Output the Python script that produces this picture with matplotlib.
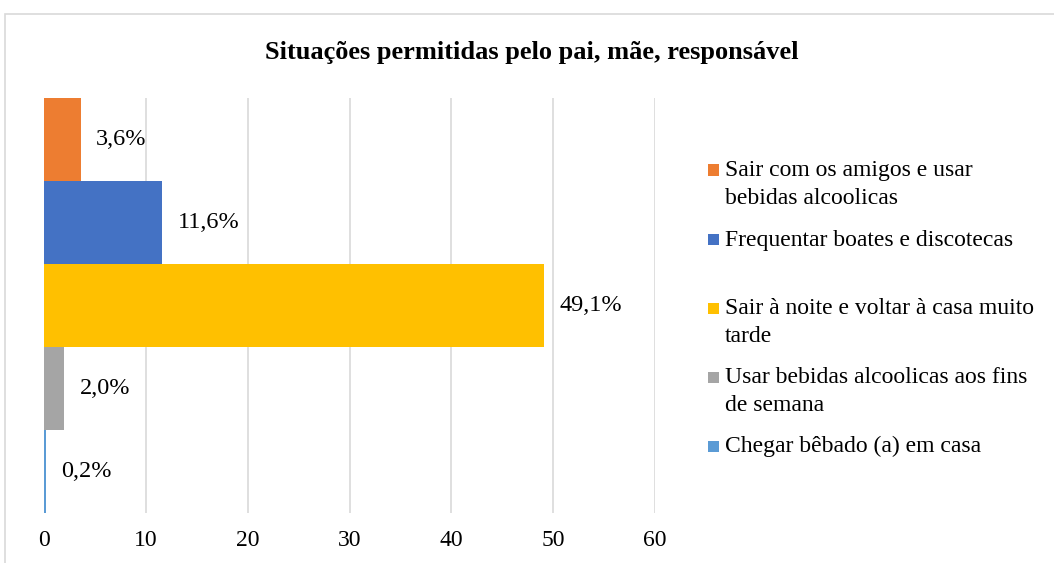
"""
Situações permitidas pelo pai, mãe, responsável - horizontal bar chart
"""

import matplotlib.pyplot as plt
from matplotlib.patches import Rectangle

plt.rcParams["font.family"] = ["Liberation Serif", "DejaVu Serif"]

TITLE = "Situações permitidas pelo pai, mãe, responsável"

categories = [
    "Sair com os amigos e usar\nbebidas alcoolicas",
    "Frequentar boates e discotecas",
    "Sair à noite e voltar à casa muito\ntarde",
    "Usar bebidas alcoolicas aos fins\nde semana",
    "Chegar bêbado (a) em casa",
]
values = [3.6, 11.6, 49.1, 2.0, 0.2]
value_labels = ["3,6%", "11,6%", "49,1%", "2,0%", "0,2%"]
colors = ["#ED7D31", "#4472C4", "#FFC000", "#A5A5A5", "#5B9BD5"]
x_ticks = [0, 10, 20, 30, 40, 50, 60]

# legend rows: first-line centre in pixels from top (Excel spaces them unevenly)
legend_y = [170, 240, 308, 377, 446]
LINE_H = 28

W, H = 1054, 563
fig = plt.figure(figsize=(W / 100, H / 100), dpi=100)

# outer chart frame
fig.add_artist(Rectangle(
    (5 / W, -0.1), 1.2, 1 - 14 / H + 0.1,
    transform=fig.transFigure, facecolor="none",
    edgecolor="#D9D9D9", linewidth=1.2,
))

ax = fig.add_axes([44 / W, 1 - 513 / H, (655 - 44) / W, (513 - 98) / H])

n = len(values)
for i, (v, lab, c) in enumerate(zip(values, value_labels, colors)):
    y = n - 1 - i
    ax.barh(y, v, height=1.0, color=c, zorder=3)
    ax.annotate(
        lab, (v, y), xytext=(11, 0), textcoords="offset points",
        va="center", ha="left", fontsize=17.5,
    )

ax.set_xlim(0, 60)
ax.set_ylim(-0.5, n - 0.5)
ax.set_xticks(x_ticks)
ax.set_yticks([])
ax.grid(axis="x", color="#D9D9D9", linewidth=1.2, zorder=0)
ax.tick_params(axis="x", length=0, labelsize=17, pad=12)
for s in ax.spines.values():
    s.set_visible(False)

fig.text(532 / W, 1 - 52 / H, TITLE, ha="center", va="center",
         fontsize=19, fontweight="bold")

# legend drawn by hand to keep Excel's uneven spacing
for cat, c, ly in zip(categories, colors, legend_y):
    fig.add_artist(Rectangle(
        (708 / W, 1 - (ly + 5.5) / H), 11 / W, 11 / H,
        transform=fig.transFigure, facecolor=c, edgecolor="none",
    ))
    for k, line in enumerate(cat.split("\n")):
        fig.text(725 / W, 1 - (ly + 6 + k * LINE_H) / H, line,
                 ha="left", va="baseline", fontsize=17)

fig.savefig("out.png", dpi=100)
